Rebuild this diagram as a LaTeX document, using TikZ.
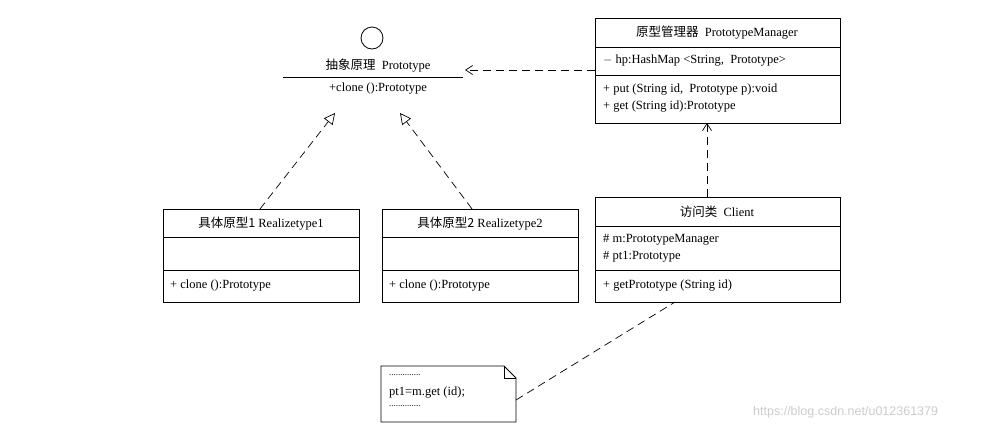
\documentclass[tikz,border=0pt]{standalone}
\usepackage{fontspec}
\setmainfont{Liberation Serif}
\newfontfamily\cjk{Noto Sans CJK SC}
\usetikzlibrary{arrows.meta}
\begin{document}
\begin{tikzpicture}[x=1pt,y=-1pt,font=\fontsize{12.5}{14}\selectfont,
  box/.style={draw,line width=0.8pt},
  txt/.style={inner sep=0pt,anchor=west},
  ctxt/.style={inner sep=0pt},
  dsh/.style={dash pattern=on 8pt off 5pt,line width=0.7pt},
  dep/.style={draw,dsh,-{Straight Barb[length=7pt,width=9pt]}},
  real/.style={draw,dsh,-{Triangle[open,length=11pt,width=11pt]}}]
\useasboundingbox[fill=white] (0,0) rectangle (996,432);
% Prototype interface
\node[draw,circle,minimum size=22pt,inner sep=0pt,line width=0.8pt] (circ) at (372,38) {};
\node[ctxt] (pt) at (378,66) {{\cjk 抽象原理}\ \ Prototype};
\draw[line width=0.8pt] (283,77) -- (463,77);
\node[ctxt] (ptm) at (378,89) {+clone ():Prototype};
\coordinate (ptA) at (335,113);
\coordinate (ptB) at (400,113);
\coordinate (ptR) at (465,70);
% Manager
\draw[box] (595,18) rectangle (840,123);
\draw[box] (595,47) -- (840,47) (595,75) -- (840,75);
\node[ctxt] (mgr) at (717,33) {{\cjk 原型管理器}\ \ PrototypeManager};
\node[txt] (mgra) at (603,61) {$-$ hp:HashMap <String,\ \ Prototype>};
\node[txt] (mgrm1) at (603,90) {+ put (String id,\ \ Prototype p):void};
\node[txt] (mgrm2) at (603,107) {+ get (String id):Prototype};
\coordinate (mgrL) at (595,70);
\coordinate (mgrB) at (707,123);
% Realize 1
\draw[box] (163,209) rectangle (359,302);
\draw[box] (163,237) -- (359,237) (163,270) -- (359,270);
\node[ctxt] (r1) at (261,224) {{\cjk 具体原型1}\ Realizetype1};
\node[txt] (r1m) at (170,286) {+ clone ():Prototype};
\coordinate (r1T) at (260,209);
% Realize 2
\draw[box] (382,209) rectangle (578,302);
\draw[box] (382,237) -- (578,237) (382,270) -- (578,270);
\node[ctxt] (r2) at (480,224) {{\cjk 具体原型2}\ Realizetype2};
\node[txt] (r2m) at (389,286) {+ clone ():Prototype};
\coordinate (r2T) at (472,209);
% Client
\draw[box] (595,197) rectangle (840,302);
\draw[box] (595,226) -- (840,226) (595,270) -- (840,270);
\node[ctxt] (cl) at (717,212) {{\cjk 访问类}\ \ Client};
\node[txt] (cla1) at (603,240) {\# m:PrototypeManager};
\node[txt] (cla2) at (603,257) {\# pt1:Prototype};
\node[txt] (clm) at (603,286) {+ getPrototype (String id)};
\coordinate (clT) at (707,197);
\coordinate (clB) at (675,302);
% Note
\draw[box] (381,366) -- (504,366) -- (516,378) -- (516,422) -- (381,422) -- cycle;
\draw[line width=0.6pt] (504,366) -- (504,378) -- (516,378);
\node[txt] (n1) at (389,375) {\fontsize{9}{9}\selectfont..............};
\node[txt] (n2) at (389,393) {pt1=m.get (id);};
\node[txt] (n3) at (389,406) {\fontsize{9}{9}\selectfont..............};
\coordinate (noteR) at (516,400);
% connectors
\draw[real] (r1T) -- (ptA);
\draw[real] (r2T) -- (ptB);
\draw[dep] (mgrL) -- (ptR);
\draw[dep] (clT) -- (mgrB);
\draw[dsh] (noteR) -- (clB);
\node[txt,text=gray!40] (wm) at (753,412) {\fontspec{Liberation Sans}\fontsize{12.5}{12}\selectfont https://blog.csdn.net/u012361379};
\end{tikzpicture}
\end{document}
